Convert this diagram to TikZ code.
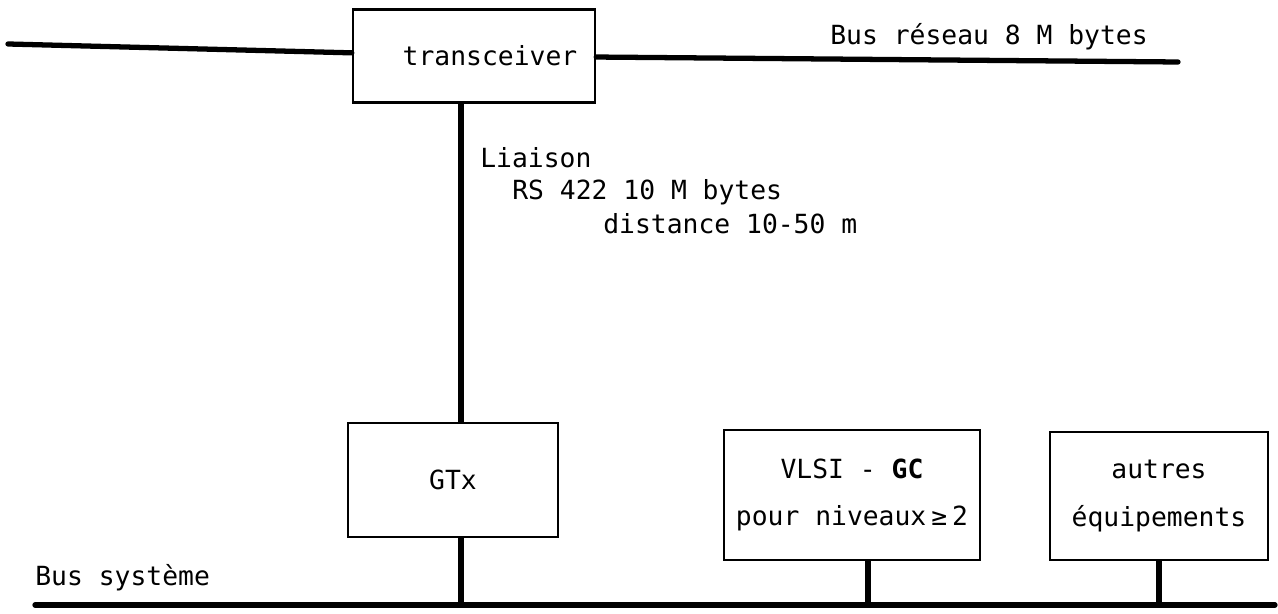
\documentclass[tikz,border=0pt]{standalone}
\usepackage{fontspec}
\setmonofont{DejaVu Sans Mono}
\usetikzlibrary{positioning}
\tikzset{
  bloc/.style={draw, line width=1.4pt, inner sep=0pt, align=center, font=\ttfamily\fontsize{15}{27}\selectfont},
  bus/.style={line width=3pt, line cap=round},
  liaison/.style={line width=3pt},
  texte/.style={font=\ttfamily\fontsize{15}{18}\selectfont, inner sep=0pt, anchor=west}
}
\begin{document}
\begin{tikzpicture}[x=0.02cm, y=-0.02cm]
\useasboundingbox (0,0) rectangle (1278,614);
% blocs
\node[bloc, minimum width=4.84cm, minimum height=1.86cm] (trx) at (474,56) {\hspace*{0.64cm}transceiver};
\node[bloc, minimum width=4.2cm, minimum height=2.28cm] (gtx) at (453,480) {GTx};
\node[bloc, minimum width=5.12cm, minimum height=2.6cm] (vlsi) at (852,495) {VLSI - \textbf{GC}\\pour niveaux\hspace{0.1cm}≥\hspace{0.1cm}2};
\node[bloc, minimum width=4.36cm, minimum height=2.56cm] (autres) at (1159,496) {autres\\équipements};
% bus
\coordinate (resG) at (8,44);
\coordinate (resD) at (1178,62);
\coordinate (sysG) at (35,605);
\coordinate (sysD) at (1275,605);
\coordinate (lk) at (461,0);
\draw[bus] (resG) -- (trx);
\draw[bus] (trx) -- (resD);
\draw[bus] (sysG) -- (sysD);
% liaisons
\draw[liaison] (trx.south -| lk) -- (gtx.north -| lk);
\draw[liaison] (gtx.south -| lk) -- (sysG -| lk);
\draw[liaison] ([xshift=0.32cm]vlsi.south) -- ([xshift=0.32cm]vlsi.south |- sysG);
\draw[liaison] (autres.south) -- (autres.south |- sysG);
% textes
\node[texte] (reseau) at (830,37) {Bus réseau 8 M bytes};
\node[texte] (lia1) at (480,158) {Liaison};
\node[texte] (lia2) at (512,192) {RS 422 10 M bytes};
\node[texte] (lia3) at (603,224) {distance 10-50 m};
\node[texte] (systeme) at (35,578) {Bus système};
\end{tikzpicture}
\end{document}
